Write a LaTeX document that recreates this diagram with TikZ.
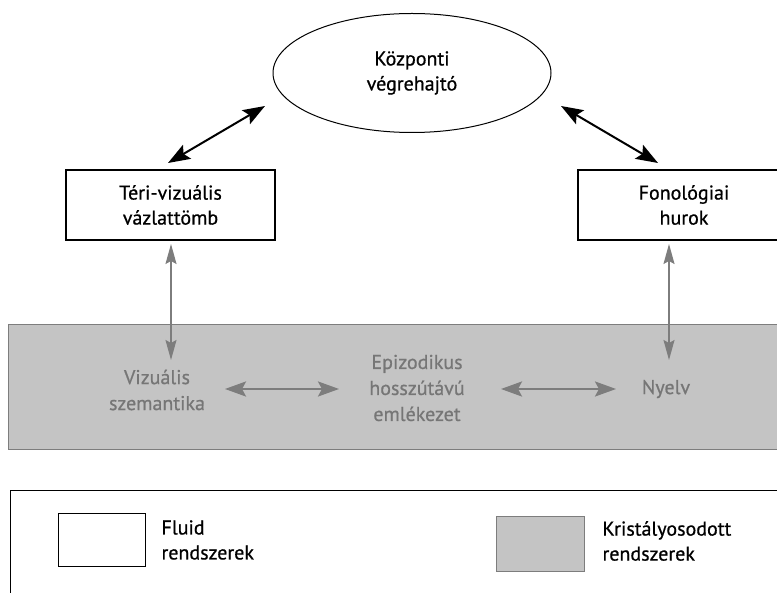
\documentclass[tikz,border=0pt]{standalone}
\usepackage{fontspec}
\setmainfont{PT Sans}[FakeBold=0.7]
\usetikzlibrary{arrows.meta,shapes.geometric}
\definecolor{bandgray}{RGB}{196,196,196}
\definecolor{txtgray}{RGB}{118,118,118}
\definecolor{arrgray}{RGB}{125,125,125}
\tikzset{
  lbl/.style={font=\fontsize{20}{25}\selectfont, align=center},
  fluid/.style={draw=black, line width=1.6pt, fill=white, lbl},
  blk/.style={line width=2pt, {Stealth[length=22pt,width=16pt,inset=4pt]}-{Stealth[length=22pt,width=16pt,inset=4pt]}},
  gry/.style={arrgray, line width=1.5pt, {Stealth[length=20pt,width=11pt,inset=3pt]}-{Stealth[length=20pt,width=11pt,inset=3pt]}},
  gryh/.style={arrgray, line width=2.5pt, {Stealth[length=21pt,width=15pt,inset=4pt]}-{Stealth[length=21pt,width=15pt,inset=4pt]}},
  gtxt/.style={lbl, text=txtgray, font=\fontsize{20}{26}\selectfont}
}
\begin{document}
\begin{tikzpicture}[x=1pt,y=-1pt]
\useasboundingbox (0,0) rectangle (777,593);
\clip (0,0) rectangle (777,593);
\fill[white] (0,0) rectangle (777,593);
% band
\node[draw=arrgray, line width=1pt, fill=bandgray, minimum width=790pt, minimum height=125pt, anchor=north west, inner sep=0pt] (band) at (8,324) {};
% ellipse
\node[ellipse, draw, line width=1pt, minimum width=278pt, minimum height=119pt, lbl] (ce) at (412,73) {Központi\\végrehajtó};
% boxes
\node[fluid, minimum width=209pt, minimum height=70pt] (tv) at (170.5,205) {Téri-vizuális\\vázlattömb};
\node[fluid, minimum width=212pt, minimum height=70pt] (fh) at (684,205) {Fonológiai\\hurok};
% band texts
\node[gtxt] (vs) at (157,390) {Vizuális\\szemantika};
\node[gtxt] (ep) at (417,388) {Epizodikus\\hosszútávú\\emlékezet};
\node[gtxt] (ny) at (666,389) {Nyelv};
% black arrows
\coordinate (a1) at (265,106);
\coordinate (a2) at (168,163);
\coordinate (b1) at (561,106);
\coordinate (b2) at (658,163);
\draw[blk] (a1) -- (a2);
\draw[blk] (b1) -- (b2);
% gray vertical arrows
\coordinate (v1) at (171,244);
\coordinate (v2) at (171,360);
\coordinate (w1) at (669,244);
\coordinate (w2) at (669,360);
\draw[gry] (v1) -- (v2);
\draw[gry] (w1) -- (w2);
% gray horizontal arrows
\coordinate (h1) at (225,389);
\coordinate (h2) at (339,389);
\coordinate (k1) at (501,389);
\coordinate (k2) at (616,389);
\draw[gryh] (h1) -- (h2);
\draw[gryh] (k1) -- (k2);
% legend
\node[draw, line width=1.4pt, minimum width=790pt, minimum height=120pt, anchor=north west, inner sep=0pt] (leg) at (10,490) {};
\node[draw, line width=1.4pt, minimum width=87pt, minimum height=53pt, inner sep=0pt] (lf) at (102,540) {};
\node[lbl, align=left, anchor=west] (lft) at (158,540) {Fluid\\rendszerek};
\node[draw=arrgray, line width=1pt, fill=bandgray, minimum width=88pt, minimum height=54pt, inner sep=0pt] (lk) at (540,544) {};
\node[lbl, align=left, anchor=west] (lkt) at (599,541) {Kristályosodott\\rendszerek};
\end{tikzpicture}
\end{document}
